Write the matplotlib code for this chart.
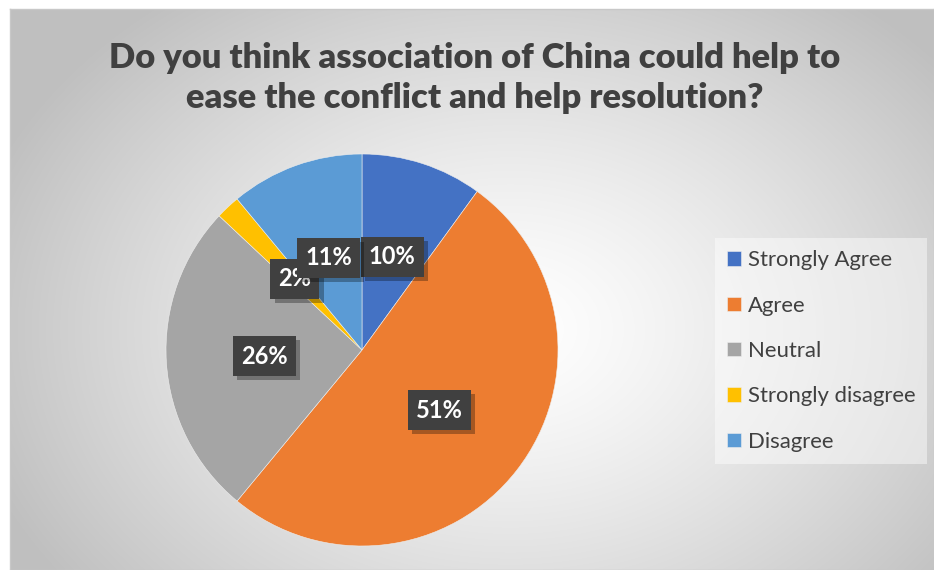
import numpy as np
import matplotlib
matplotlib.use("Agg")
import matplotlib.pyplot as plt
import matplotlib.patheffects as pe
from matplotlib.path import Path

plt.rcParams['font.family'] = ['Lato', 'DejaVu Sans']

categories = ["Strongly Agree", "Agree", "Neutral", "Strongly disagree", "Disagree"]
shares = [10, 51, 26, 2, 11]
colors = ["#4472C4", "#ED7D31", "#A5A5A5", "#FFC000", "#5B9BD5"]
title = "Do you think association of China could help to\nease the conflict and help resolution?"

W, H = 934, 570
fig = plt.figure(figsize=(W / 100, H / 100), dpi=100)
fig.patch.set_facecolor("white")

# chart area with a soft radial gradient
bg = fig.add_axes([10 / W, 0, 1 - 10 / W, 561 / H])
yy, xx = np.mgrid[0:561, 0:924]
cx, cy = 500, 320
d = np.sqrt(((xx - cx) / 560) ** 2 + ((yy - cy) / 420) ** 2)
shade = 1.0 - 0.25 * np.clip(d, 0, 1) ** 1.3
bg.imshow(np.dstack([shade] * 3), aspect="auto", extent=(0, 1, 0, 1), origin="upper")
bg.set_xlim(0, 1)
bg.set_ylim(0, 1)
for s in bg.spines.values():
    s.set_color("#c8c8c8")
    s.set_linewidth(1)
bg.set_xticks([])
bg.set_yticks([])

fig.text(475 / W, 1 - 78 / H, title, ha="center", va="center", fontsize=24.8,
         fontweight="heavy", color="#404040", linespacing=1.3)


def label_box(x0, y0, width, height, mutation_size):
    # fixed-height box, a little wider than the text
    cxb, cyb = x0 + width / 2, y0 + height / 2
    hw, hh = width / 2 + 8, 20
    verts = [(cxb - hw, cyb - hh), (cxb + hw, cyb - hh), (cxb + hw, cyb + hh),
             (cxb - hw, cyb + hh), (cxb - hw, cyb - hh)]
    return Path(verts, closed=True)


# pie
cxp, cyp, r = 362, 350, 196
ax = fig.add_axes([(cxp - r) / W, (H - cyp - r) / H, 2 * r / W, 2 * r / H])
wedges, _, pcts = ax.pie(shares, colors=colors, startangle=90, counterclock=False,
                         autopct="%d%%", pctdistance=0.5,
                         wedgeprops=dict(edgecolor="#eeeeee", linewidth=0.4))
ax.set_xlim(-1, 1)
ax.set_ylim(-1, 1)
ax.set_aspect("equal")
ax.axis("off")

for t in pcts:
    t.set_color("white")
    t.set_fontsize(17)
    t.set_fontweight("bold")
    t.set_bbox(dict(boxstyle=label_box, facecolor="#404040",
                    edgecolor="none", linewidth=0))
    t.get_bbox_patch().set_path_effects([
        pe.SimplePatchShadow(offset=(3, -3), shadow_rgbFace="black", alpha=0.3),
        pe.Normal()])

leg = fig.legend(wedges, categories, loc="upper left",
                 bbox_to_anchor=(715 / W, 1 - 238 / H), frameon=True,
                 fontsize=15.9, handlelength=0.63, handleheight=0.63,
                 handletextpad=0.3, labelspacing=1.15, borderpad=0.55,
                 borderaxespad=0, fancybox=False)
leg.get_frame().set_facecolor("white")
leg.get_frame().set_alpha(0.45)
leg.get_frame().set_linewidth(0)
for txt in leg.get_texts():
    txt.set_color("#404040")

fig.savefig("out.png", dpi=100)
